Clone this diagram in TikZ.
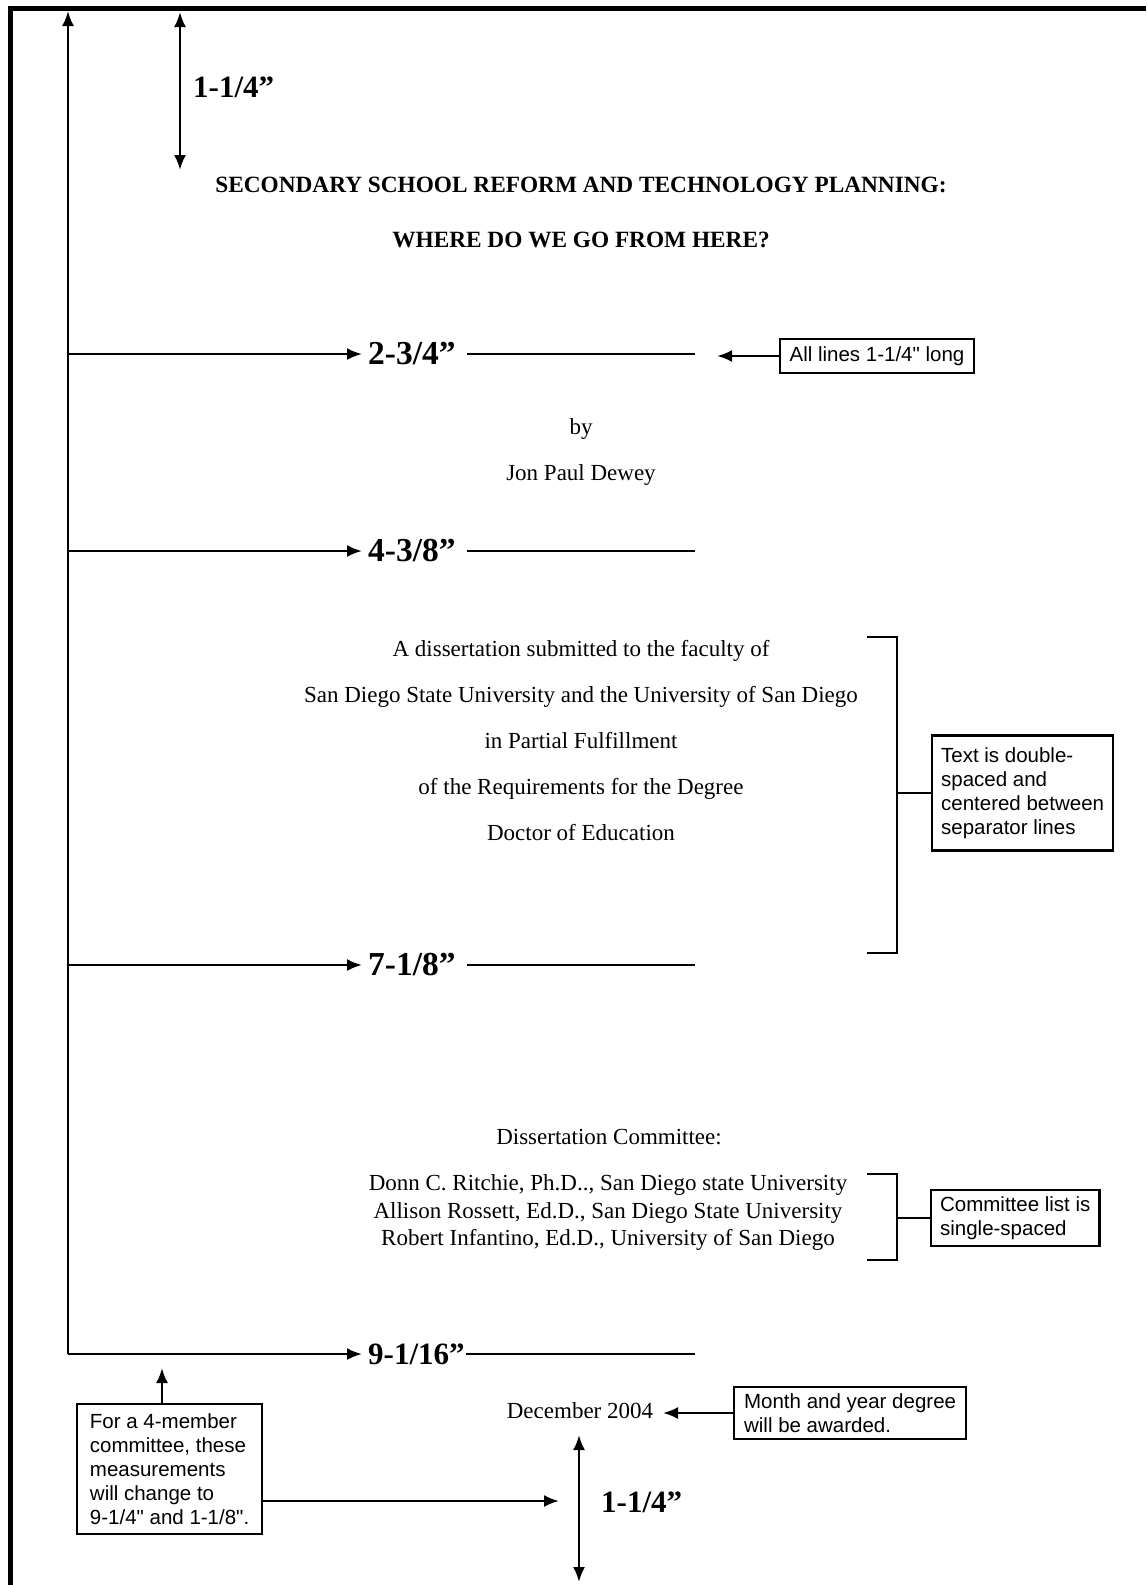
\documentclass[tikz,border=0pt]{standalone}
\usepackage{fontspec}
\setmainfont{Liberation Serif}
\setsansfont{Liberation Sans}
\usetikzlibrary{arrows.meta}
\newcommand\strq{\XeTeXglyph\XeTeXcharglyph"22\relax}
\begin{document}
\begin{tikzpicture}[x=1pt,y=-1pt,
  arr/.style={line width=2.4pt,-{Latex[length=15pt,width=12pt]}},
  darr/.style={line width=2.4pt,{Latex[length=15pt,width=12pt]}-{Latex[length=15pt,width=12pt]}},
  ln/.style={line width=2.4pt},
  body/.style={font=\fontsize{23}{27.5}\selectfont, inner sep=0pt, anchor=base},
  ttl/.style={font=\fontsize{23.3}{28}\selectfont\bfseries, inner sep=0pt, anchor=base},
  dim/.style={font=\fontsize{31}{36}\selectfont\bfseries, inner sep=0pt, anchor=west},
  dimb/.style={font=\fontsize{33.5}{38}\selectfont\bfseries, inner sep=0pt, anchor=west},
  note/.style={draw, line width=2.2pt, font=\sffamily\fontsize{20.5}{24}\selectfont, align=left, inner xsep=9pt, inner ysep=4pt, anchor=west},
]
\useasboundingbox (0,0) rectangle (1146,1585);
% page frame
\draw[line width=5pt] (10.5,1585) -- (10.5,8) -- (1146,8);

% left main vertical arrow
\coordinate (vbot) at (68,1354);
\coordinate (vtop) at (68,11);
\draw[arr] (vbot) -- (vtop);

% top margin dimension
\coordinate (t1) at (180,12);
\coordinate (t2) at (180,170);
\draw[darr] (t1) -- (t2);
\node[dim] (dt) at (193,87) {1-1/4”};

% title
\node[ttl] (title1) at (581,192.5) {SECONDARY SCHOOL REFORM AND TECHNOLOGY PLANNING:};
\node[ttl] (title2) at (581,247.5) {WHERE DO WE GO FROM HERE?};

% row 1
\coordinate (r1s) at (68,354); \coordinate (r1t) at (362,354);
\draw[arr] (r1s) -- (r1t);
\node[dimb] (d1) at (368,354) {2-3/4”};
\coordinate (l1a) at (467,354); \coordinate (l1b) at (695,354);
\draw[ln] (l1a) -- (l1b);
\node[note, anchor=center, minimum width=194pt, minimum height=34pt, inner ysep=2pt] (bx1) at (877,356) {All lines 1-1/4\strq{} long};
\coordinate (bx1t) at (717,356);
\draw[arr] (bx1.west) -- (bx1t);

% by / author
\node[body] (by) at (581,434) {by};
\node[body] (author) at (581,480) {Jon Paul Dewey};

% row 2
\coordinate (r2s) at (68,551); \coordinate (r2t) at (362,551);
\draw[arr] (r2s) -- (r2t);
\node[dimb] (d2) at (368,551) {4-3/8”};
\coordinate (l2a) at (467,551); \coordinate (l2b) at (695,551);
\draw[ln] (l2a) -- (l2b);

% dissertation block
\node[body] (p1) at (581,656) {A dissertation submitted to the faculty of};
\node[body] (p2) at (581,702) {San Diego State University and the University of San Diego};
\node[body] (p3) at (581,748) {in Partial Fulfillment};
\node[body] (p4) at (581,794) {of the Requirements for the Degree};
\node[body] (p5) at (581,840) {Doctor of Education};

% bracket 1
\coordinate (b1a) at (867,637); \coordinate (b1b) at (897,637);
\coordinate (b1c) at (897,953); \coordinate (b1d) at (867,953);
\coordinate (b1m) at (897,793);
\draw[ln] (b1a) -- (b1b) -- (b1c) -- (b1d);
\node[note, minimum width=181pt, minimum height=115pt] (bx2) at (931,793) {Text is double-\\spaced and\\centered between\\separator lines};
\draw[ln] (b1m) -- (bx2.west);

% row 3
\coordinate (r3s) at (68,965); \coordinate (r3t) at (362,965);
\draw[arr] (r3s) -- (r3t);
\node[dimb] (d3) at (368,965) {7-1/8”};
\coordinate (l3a) at (467,965); \coordinate (l3b) at (695,965);
\draw[ln] (l3a) -- (l3b);

% committee
\node[body] (ch) at (609,1144) {Dissertation Committee:};
\node[body] (c1) at (608,1190) {Donn C. Ritchie, Ph.D.., San Diego state University};
\node[body] (c2) at (608,1218) {Allison Rossett, Ed.D., San Diego State University};
\node[body] (c3) at (608,1245) {Robert Infantino, Ed.D., University of San Diego};

% bracket 2
\coordinate (b2a) at (867,1174); \coordinate (b2b) at (897,1174);
\coordinate (b2c) at (897,1260); \coordinate (b2d) at (867,1260);
\coordinate (b2m) at (897,1218);
\draw[ln] (b2a) -- (b2b) -- (b2c) -- (b2d);
\node[note, minimum width=167pt, minimum height=56pt] (bx3) at (930,1218) {Committee list is\\single-spaced};
\draw[ln] (b2m) -- (bx3.west);

% row 4
\coordinate (r4s) at (68,1354); \coordinate (r4t) at (362,1354);
\draw[arr] (r4s) -- (r4t);
\node[dim] (d4) at (368,1354) {9-1/16”};
\coordinate (l4a) at (466,1354); \coordinate (l4b) at (695,1354);
\draw[ln] (l4a) -- (l4b);

% 4-member note
\node[note, anchor=north west, minimum width=185pt, minimum height=130pt] (bx5) at (76,1403) {For a 4-member\\committee, these\\measurements\\will change to\\9-1/4\strq{} and 1-1/8\strq.};
\coordinate (b5upt) at (162,1368);
\draw[arr] (bx5.north -| b5upt) -- (b5upt);
\coordinate (b5rt) at (559,1501);
\draw[arr] (bx5.east |- b5rt) -- (b5rt);

% date
\node[body] (dec) at (580,1418) {December 2004};
\node[note, minimum width=232pt, minimum height=52pt, inner ysep=2pt] (bx4) at (733,1413) {Month and year degree\\will be awarded.};
\coordinate (dect) at (663,1413);
\draw[arr] (bx4.west) -- (dect);

% bottom margin dimension
\coordinate (bd1) at (579,1435);
\coordinate (bd2) at (579,1582);
\draw[darr] (bd1) -- (bd2);
\node[dim] (db) at (601,1502) {1-1/4”};
\end{tikzpicture}
\end{document}
